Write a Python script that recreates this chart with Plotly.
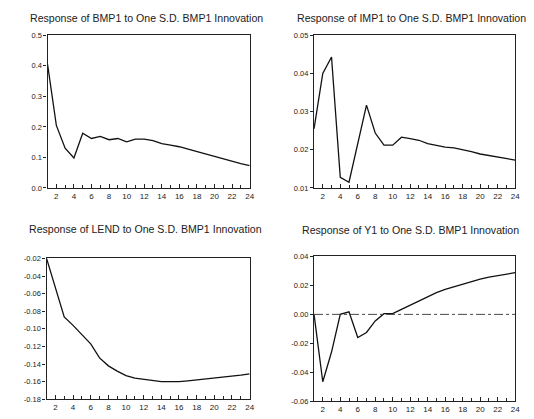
import plotly.graph_objects as go

W, H = 534, 419

horizon = list(range(1, 25))
bmp1 = [0.405, 0.205, 0.130, 0.098, 0.179, 0.162, 0.169, 0.158, 0.162, 0.151, 0.160, 0.160,
        0.155, 0.145, 0.140, 0.135, 0.127, 0.119, 0.110, 0.103, 0.095, 0.088, 0.080, 0.073]
imp1 = [0.0255, 0.0400, 0.0443, 0.0128, 0.0115, 0.0220, 0.0317, 0.0244, 0.0212, 0.0212, 0.0233, 0.0229,
        0.0225, 0.0216, 0.0211, 0.0207, 0.0205, 0.0201, 0.0195, 0.0189, 0.0185, 0.0181, 0.0177, 0.0173]
lend = [-0.020, -0.053, -0.0865, -0.096, -0.107, -0.117, -0.133, -0.142, -0.148, -0.153, -0.156, -0.1575,
        -0.159, -0.160, -0.160, -0.160, -0.159, -0.158, -0.157, -0.156, -0.1545, -0.1535, -0.1525, -0.151]
y1 = [0.000, -0.0465, -0.026, 0.000, 0.0018, -0.0160, -0.0125, -0.0045, 0.0005, 0.0005, 0.0035, 0.0065,
      0.0095, 0.0120, 0.0150, 0.0172, 0.0190, 0.0210, 0.0228, 0.0243, 0.0257, 0.0268, 0.0278, 0.0288]

titles = ["Response of BMP1 to One S.D. BMP1 Innovation",
          "Response of IMP1 to One S.D. BMP1 Innovation",
          "Response of LEND to One S.D. BMP1 Innovation",
          "Response of Y1 to One S.D. BMP1 Innovation"]

yranges = [[0.0, 0.5], [0.01, 0.05], [-0.18, -0.02], [-0.06, 0.04]]
ytickvals = [[0.0, 0.1, 0.2, 0.3, 0.4, 0.5],
             [0.01, 0.02, 0.03, 0.04, 0.05],
             [-0.18, -0.16, -0.14, -0.12, -0.10, -0.08, -0.06, -0.04, -0.02],
             [-0.06, -0.04, -0.02, 0.00, 0.02, 0.04]]
yticktext = [["0.0", "0.1", "0.2", "0.3", "0.4", "0.5"],
             ["0.01", "0.02", "0.03", "0.04", "0.05"],
             ["-0.18", "-0.16", "-0.14", "-0.12", "-0.10", "-0.08", "-0.06", "-0.04", "-0.02"],
             ["-0.06", "-0.04", "-0.02", "0.00", "0.02", "0.04"]]
xtickvals = list(range(2, 25, 2))

# pixel boxes (left, right, top, bottom)
boxes = [(48, 252, 32, 188), (317, 520, 32, 188), (47, 252, 260, 404), (317, 520, 258, 406)]
title_pos = [(148, 14), (415, 14), (147, 230), (414, 231)]
series = [bmp1, imp1, lend, y1]

fig = go.Figure()
font = "Liberation Sans, Arial, sans-serif"
layout = dict(width=W, height=H, margin=dict(l=0, r=0, t=0, b=0),
              paper_bgcolor="white", plot_bgcolor="white", showlegend=False,
              font=dict(family=font, color="#222"))
annotations = []
for i in range(4):
    l, r, t, b = boxes[i]
    sfx = "" if i == 0 else str(i + 1)
    xa = "xaxis" + sfx
    ya = "yaxis" + sfx
    layout[xa] = dict(domain=[l / W, r / W], range=[1, 24], anchor="y" + sfx,
                      tickvals=xtickvals, ticktext=[str(v) for v in xtickvals],
                      ticks="inside", ticklen=4, tickcolor="#222",
                      minor=dict(tickvals=horizon, ticks="inside", ticklen=3, tickcolor="#222"),
                      showgrid=False, zeroline=False, showline=True, linecolor="#222", linewidth=1.2,
                      mirror=True, tickfont=dict(size=8, family=font), fixedrange=True)
    layout[ya] = dict(domain=[1 - b / H, 1 - t / H], range=yranges[i], anchor="x" + sfx,
                      tickvals=ytickvals[i], ticktext=yticktext[i],
                      ticks="outside", ticklen=3, tickcolor="#222",
                      showgrid=False, zeroline=False, showline=True, linecolor="#222", linewidth=1.2,
                      mirror=True, tickfont=dict(size=7.5, family=font), fixedrange=True)
    fig.add_trace(go.Scatter(x=horizon, y=series[i], mode="lines",
                             line=dict(color="#111", width=1.3),
                             xaxis="x" + sfx, yaxis="y" + sfx))
    tx, ty = title_pos[i]
    annotations.append(dict(x=tx / W, y=1 - ty / H, xref="paper", yref="paper",
                            text=titles[i], showarrow=False, xanchor="center", yanchor="middle",
                            font=dict(size=10.6, family=font, color="#222")))

# zero line in the Y1 panel
fig.add_trace(go.Scatter(x=[1, 24], y=[0, 0], mode="lines",
                         line=dict(color="#333", width=0.9, dash="dashdot"),
                         xaxis="x4", yaxis="y4"))

layout["annotations"] = annotations
fig.update_layout(**layout)
fig.write_html("out.html", config={"displayModeBar": False},
               post_script="document.body.style.margin='0';document.body.style.overflow='hidden';")
